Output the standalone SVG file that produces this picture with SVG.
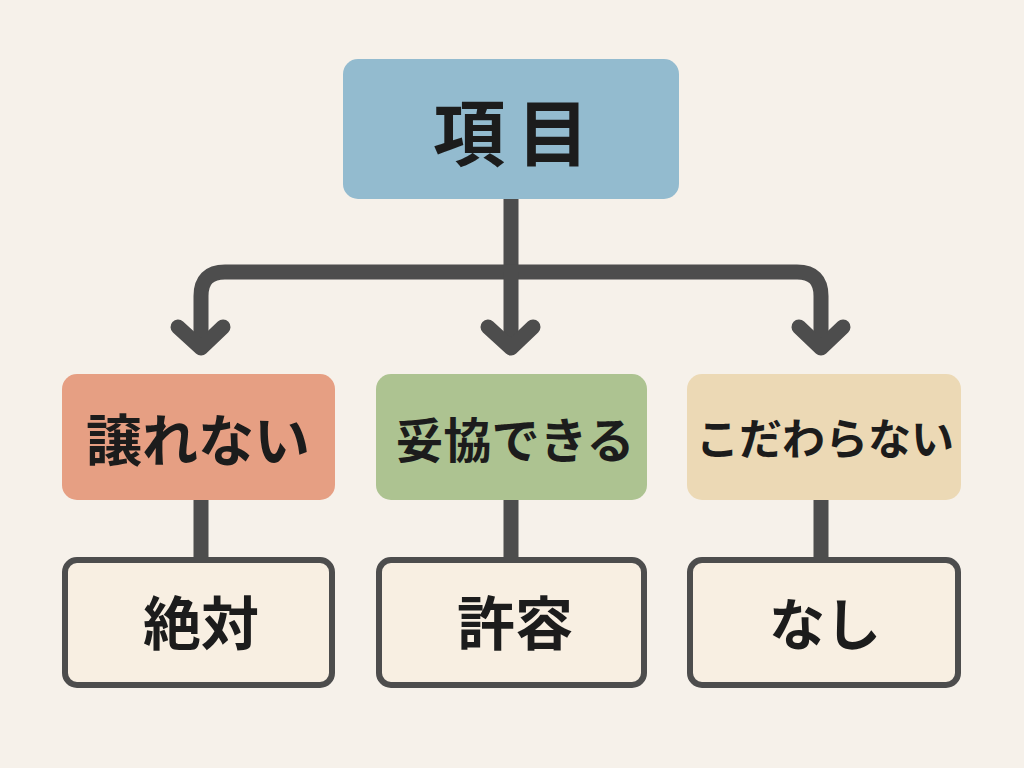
<svg xmlns="http://www.w3.org/2000/svg" width="1024" height="768" viewBox="0 0 1024 768">
<style>
text{font-family:"Noto Sans CJK JP","Noto Sans CJK SC",sans-serif;font-weight:700;fill:#1c1c1c;text-anchor:middle}
.c{fill:none;stroke:#4d4d4d;stroke-width:15}
.a{fill:none;stroke:#4d4d4d;stroke-width:15;stroke-linecap:round;stroke-linejoin:round}
.o{fill:#f8efe2;stroke:#4d4d4d;stroke-width:6}
</style>
<rect width="1024" height="768" fill="#f6f1ea"/>
<g id="connectors">
<path class="c" d="M511 199V272"/>
<path class="c" d="M201 345V296Q201 272 225 272H797Q821 272 821 296V345"/>
<path class="c" d="M511 272V345"/>
<path class="a" d="M178 327L201 348L223 327"/>
<path class="a" d="M488 327L511 348L533 327"/>
<path class="a" d="M799 327L821 348L843 327"/>
<path class="c" d="M201 499V560"/>
<path class="c" d="M511 499V560"/>
<path class="c" d="M821 499V560"/>
</g>
<g id="n0"><rect x="343" y="59" width="336" height="140" rx="15" fill="#93bbcf"/><text x="517" y="160" font-size="72" letter-spacing="12">項目</text></g>
<g id="n1"><rect x="62" y="374" width="273" height="126" rx="15" fill="#e69f83"/><text x="198" y="461" font-size="56">譲れない</text></g>
<g id="n2"><rect x="376" y="374" width="271" height="126" rx="15" fill="#adc391"/><text x="515" y="458" font-size="48">妥協できる</text></g>
<g id="n3"><rect x="687" y="374" width="274" height="126" rx="15" fill="#ecd9b5"/><text x="825" y="455" font-size="43">こだわらない</text></g>
<g id="n4"><rect class="o" x="65" y="560" width="267" height="125" rx="12"/><text x="201" y="645" font-size="58">絶対</text></g>
<g id="n5"><rect class="o" x="379" y="560" width="265" height="125" rx="12"/><text x="515" y="645" font-size="58">許容</text></g>
<g id="n6"><rect class="o" x="690" y="560" width="268" height="125" rx="12"/><text x="825" y="645" font-size="56">なし</text></g>
</svg>
